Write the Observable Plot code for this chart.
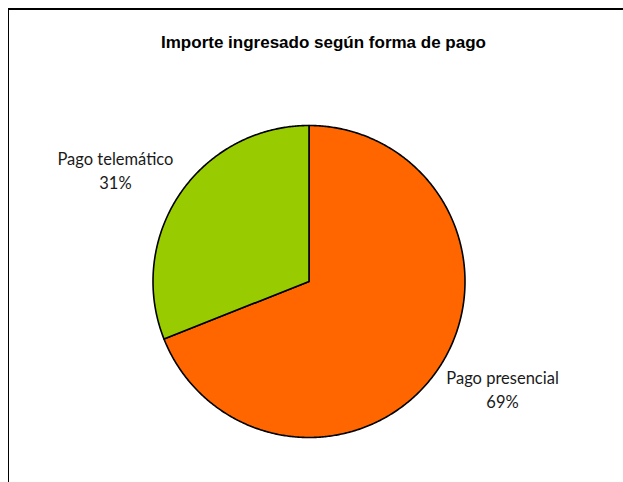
<!DOCTYPE html>
<html>
<head>
<meta charset="utf-8">
<script src="https://cdn.jsdelivr.net/npm/d3@7"></script>
<script src="https://cdn.jsdelivr.net/npm/@observablehq/plot@0.6"></script>
<style>
  html, body { margin: 0; padding: 0; background: #fff; }
  #wrap { position: relative; width: 623px; height: 482px; overflow: hidden; }
  #frame { position: absolute; left: 8px; top: 8px; width: 700px; height: 600px;
           border-top: 2px solid #000; border-left: 1.5px solid #000; }
  #chart { position: absolute; left: 0; top: 0; }
</style>
</head>
<body>
<div id="wrap"><div id="frame"></div><div id="chart"></div></div>
<script>
// Data
const title = "Importe ingresado según forma de pago";
const categories = ["Pago presencial", "Pago telemático"];
const values = [69, 31];
const colors = ["#FF6600", "#99CC00"];

// Layout
const W = 623, H = 482;
const cx = 308.5, cy = 281, R = 156;

const pie = d3.pie().sort(null).value(d => d.value);
const arcs = pie(categories.map((c, i) => ({name: c, value: values[i], color: colors[i]})));

// polygon points for each slice (angles clockwise from 12 o'clock)
const slices = arcs.map(a => {
  const pts = [{x: 0, y: 0}];
  const n = Math.max(2, Math.ceil((a.endAngle - a.startAngle) / (Math.PI / 360)));
  for (let k = 0; k <= n; k++) {
    const t = a.startAngle + (a.endAngle - a.startAngle) * k / n;
    pts.push({x: Math.sin(t), y: Math.cos(t)});
  }
  pts.push({x: 0, y: 0});
  return {name: a.data.name, color: a.data.color, pts};
});

const labels = arcs.map(a => {
  const m = (a.startAngle + a.endAngle) / 2;
  return {
    name: a.data.name,
    pct: Math.round(a.data.value / d3.sum(values) * 100) + "%",
    x: Math.sin(m) * 1.5,
    y: Math.cos(m) * 1.25
  };
});

const marks = [];
for (const s of slices) {
  marks.push(Plot.line(s.pts, {x: "x", y: "y", fill: s.color, stroke: "#000", strokeWidth: 1.6, strokeLinejoin: "round"}));
}
marks.push(Plot.text(labels, {x: "x", y: "y", text: "name", dy: -12, fontSize: 16.5, fill: "#1a1a1a",
  fontFamily: "Lato, sans-serif"}));
marks.push(Plot.text(labels, {x: "x", y: "y", text: "pct", dy: 12, fontSize: 16.5, fill: "#1a1a1a",
  fontFamily: "Lato, sans-serif"}));
marks.push(Plot.text([title], {frameAnchor: "top-left", dx: 323, dy: 35, text: d => d, textAnchor: "middle",
  lineAnchor: "top", fontSize: 17, fontWeight: "bold", fill: "#000",
  fontFamily: "'Liberation Sans Narrow', 'Arial Narrow', 'Liberation Sans', sans-serif"}));

const chart = Plot.plot({
  width: W, height: H,
  margin: 0,
  x: {domain: [-1, 1], range: [cx - R, cx + R], axis: null},
  y: {domain: [-1, 1], range: [cy + R, cy - R], axis: null},
  style: {background: "transparent", overflow: "visible"},
  marks
});
document.getElementById("chart").appendChild(chart);
</script>
</body>
</html>
